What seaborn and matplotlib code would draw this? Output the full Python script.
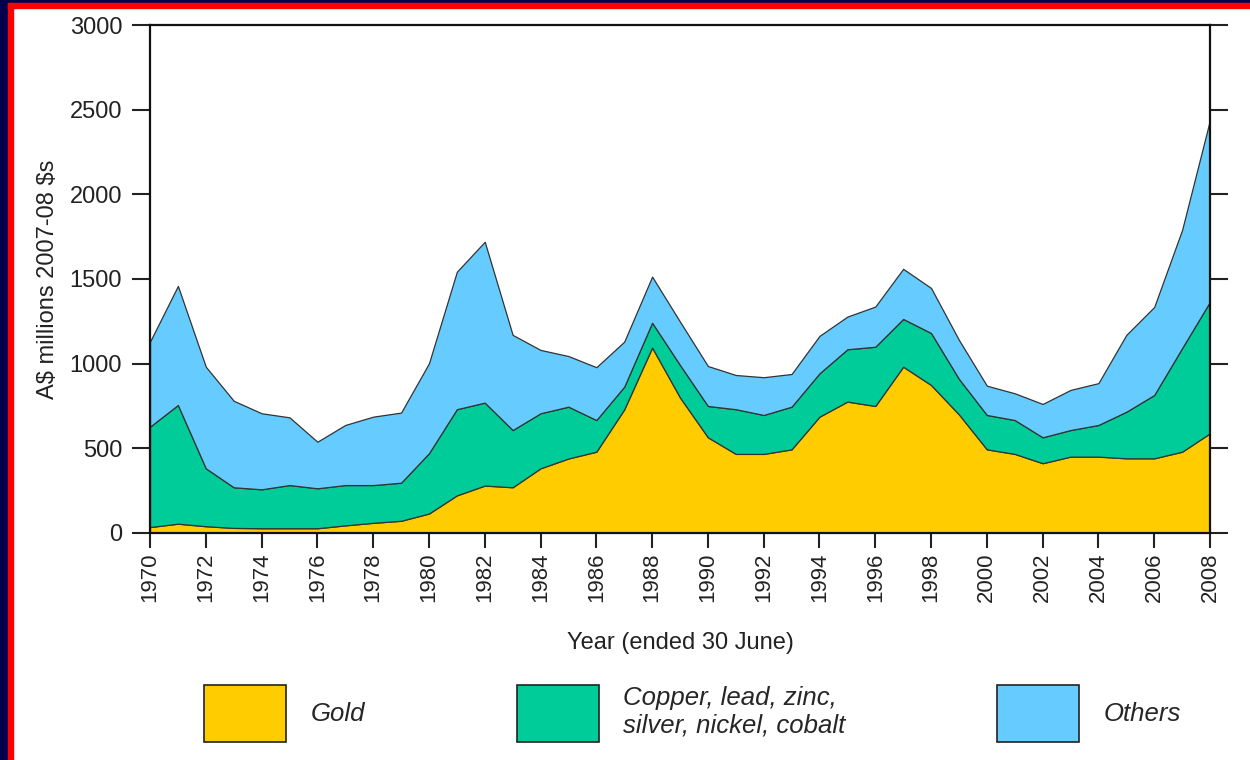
import numpy as np
import pandas as pd
import seaborn as sns
import matplotlib.pyplot as plt
from matplotlib.patches import Patch, Rectangle

years = list(range(1970, 2009))
gold = [35, 55, 40, 30, 28, 28, 28, 45, 60, 72, 115, 222, 280, 270, 382, 440, 480, 730, 1095, 800,
        565, 467, 467, 494, 687, 776, 750, 982, 874, 700, 494, 467, 412, 451, 451, 441, 441, 480, 589]
base_metals = [593, 701, 342, 240, 230, 255, 236, 238, 223, 225, 356, 509, 490, 338, 325, 306, 187, 134, 147, 192,
               185, 264, 230, 252, 256, 309, 350, 282, 307, 210, 203, 200, 153, 157, 187, 275, 374, 612, 777]
others = [502, 703, 600, 511, 449, 400, 275, 355, 404, 414, 531, 812, 950, 562, 374, 299, 312, 266, 272, 256,
          236, 202, 223, 193, 221, 193, 237, 296, 266, 230, 173, 158, 197, 237, 247, 454, 520, 698, 1074]
labels = ["Gold", "Copper, lead, zinc,\nsilver, nickel, cobalt", "Others"]
colors = ["#FFCC00", "#00CC99", "#66CCFF"]
xticks = list(range(1970, 2009, 2))
yticks = [0, 500, 1000, 1500, 2000, 2500, 3000]

df = pd.DataFrame({"year": years, "gold": gold, "base": base_metals, "others": others})

sns.set_theme(style="ticks")
plt.rcParams['font.family'] = ['Liberation Sans', 'DejaVu Sans']

fig = plt.figure(figsize=(12.5, 7.6), dpi=100)
ax = fig.add_axes([0.12, 0.2987, 0.848, 0.6684])

ax.stackplot(df["year"], df["gold"], df["base"], df["others"], colors=colors,
             edgecolor="#333333", linewidth=0.9)

ax.set_xlim(1970, 2008)
ax.set_ylim(0, 3000)
ax.set_xticks(xticks)
ax.set_xticklabels([str(y) for y in xticks], rotation=90, fontsize=16, color="#222222")
ax.set_yticks(yticks)
ax.set_yticklabels([str(v) for v in yticks], fontsize=17, color="#222222")
ax.tick_params(axis="y", which="both", left=True, right=True, direction="out",
               length=13, width=1.5, pad=7, color="#222222")
ax.tick_params(axis="x", direction="out", length=11, width=1.5, pad=3, color="#222222")
for s in ax.spines.values():
    s.set_visible(True)
    s.set_color("#111111")
    s.set_linewidth(1.6)
ax.set_facecolor("white")

ax.set_ylabel("A\\$ millions 2007-08 \\$s", fontsize=17, color="#222222", labelpad=8)
ax.set_xlabel("Year (ended 30 June)", fontsize=17, color="#222222", labelpad=22)

handles = [Patch(facecolor=c, edgecolor="#222222", linewidth=1.2) for c in colors]
leg = fig.legend(handles, labels, loc="center", bbox_to_anchor=(0.554, 0.061), ncol=3,
                 frameon=False, handlelength=3.2, handleheight=3.05, handletextpad=0.95,
                 columnspacing=5.9, prop={"size": 18.5, "style": "italic"})

# slide frame: navy and red strips at the top and left edge
fig.patches.append(Rectangle((0, 0), 8 / 1250, 1, transform=fig.transFigure, color="#00004D", zorder=10))
fig.patches.append(Rectangle((8 / 1250, 0), 5 / 1250, 1, transform=fig.transFigure, color="#FF0000", zorder=10))
fig.patches.append(Rectangle((0, 1 - 3 / 760), 1, 3 / 760, transform=fig.transFigure, color="#00004D", zorder=10))
fig.patches.append(Rectangle((8 / 1250, 1 - 8 / 760), 1, 5 / 760, transform=fig.transFigure, color="#FF0000", zorder=10))

fig.savefig("out.png", dpi=100, facecolor="white")
